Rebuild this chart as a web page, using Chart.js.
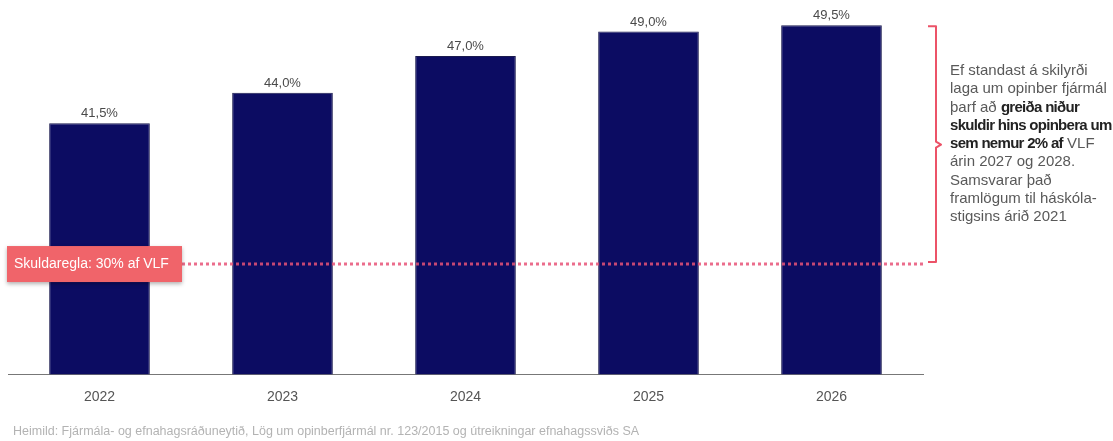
<!DOCTYPE html>
<html lang="is">
<head>
<meta charset="utf-8">
<script src="https://cdn.jsdelivr.net/npm/chart.js@4.4.1/dist/chart.umd.min.js"></script>
<style>
  html, body { margin: 0; padding: 0; background: #fff; }
  #wrap { position: relative; width: 1113px; height: 441px; font-family: 'Liberation Sans', Arial, sans-serif; }
  #chart { position: absolute; left: 0; top: 0; }
  .note { position: absolute; left: 950px; top: 61px; font-size: 15px; line-height: 18.3px; color: #595959; white-space: nowrap; }
  .note b { color: #222; font-weight: 700; letter-spacing: -0.7px; }
  .source { position: absolute; left: 13px; top: 424px; font-size: 12.5px; color: #b3b3b3; white-space: nowrap; }
</style>
</head>
<body>
<div id="wrap">
  <canvas id="chart" width="1113" height="441"></canvas>
  <div class="note">Ef standast á skilyrði<br>laga um opinber fjármál<br>þarf að <b>greiða niður</b><br><b>skuldir hins opinbera um</b><br><b>sem nemur 2% af</b> VLF<br>árin 2027 og 2028.<br>Samsvarar það<br>framlögum til háskóla-<br>stigsins árið 2021</div>
  <div class="source">Heimild: Fjármála- og efnahagsráðuneytið, Lög um opinberfjármál nr. 123/2015 og útreikningar efnahagssviðs SA</div>
</div>
<script>
// Skuldir hins opinbera, % af VLF
const years = ['2022', '2023', '2024', '2025', '2026'];
const debtShare = [41.5, 44.0, 47.0, 49.0, 49.5];
const debtRule = 30;
const ruleLabel = 'Skuldaregla: 30% af VLF';

const navy = '#0c0c62';
const coral = '#f0646a';

const fmt = v => v.toFixed(1).replace('.', ',') + '%';

// value labels above each bar
const valueLabels = {
    id: 'valueLabels',
    afterDatasetsDraw(chart) {
        const { ctx } = chart;
        const meta = chart.getDatasetMeta(0);
        ctx.save();
        ctx.font = "13px 'Liberation Sans', Arial, sans-serif";
        ctx.fillStyle = '#4a4a4a';
        ctx.textAlign = 'center';
        ctx.textBaseline = 'bottom';
        meta.data.forEach((bar, i) => ctx.fillText(fmt(debtShare[i]), bar.x, bar.y - 3));
        ctx.restore();
    }
};

// dotted debt-rule line, its label box and the brace on the right
const ruleLine = {
    id: 'ruleLine',
    afterDatasetsDraw(chart) {
        const { ctx, chartArea, scales } = chart;
        const y = scales.y.getPixelForValue(debtRule);
        const yTop = scales.y.getPixelForValue(debtShare[debtShare.length - 1]);
        ctx.save();

        ctx.strokeStyle = 'rgba(232, 84, 120, 0.85)';
        ctx.lineWidth = 3;
        ctx.setLineDash([3, 3]);
        ctx.beginPath();
        ctx.moveTo(182, y);
        ctx.lineTo(chartArea.right, y);
        ctx.stroke();
        ctx.setLineDash([]);

        // label box
        ctx.shadowColor = 'rgba(0,0,0,0.3)';
        ctx.shadowBlur = 4;
        ctx.shadowOffsetY = 2;
        ctx.fillStyle = coral;
        ctx.fillRect(7, y - 18, 175, 36);
        ctx.shadowColor = 'transparent';
        ctx.font = "14px 'Liberation Sans', Arial, sans-serif";
        ctx.fillStyle = '#fff';
        ctx.textAlign = 'left';
        ctx.textBaseline = 'middle';
        ctx.fillText(ruleLabel, 14, y);

        // brace
        const bx = 936;
        const mid = (yTop + y) / 2;
        ctx.strokeStyle = '#ec5368';
        ctx.lineWidth = 2;
        ctx.lineJoin = 'round';
        ctx.beginPath();
        ctx.moveTo(928, yTop + 1);
        ctx.lineTo(bx, yTop + 1);
        ctx.lineTo(bx, mid - 3);
        ctx.lineTo(bx + 5, mid);
        ctx.lineTo(bx, mid + 3);
        ctx.lineTo(bx, y - 2);
        ctx.lineTo(928, y - 2);
        ctx.stroke();
        ctx.restore();
    }
};

new Chart(document.getElementById('chart'), {
    type: 'bar',
    data: {
        labels: years,
        datasets: [{ data: debtShare, backgroundColor: navy, borderColor: '#1a1a4e', borderWidth: 1, categoryPercentage: 1, barPercentage: 0.55 }]
    },
    options: {
        responsive: false, animation: false,
        layout: { padding: { left: 8, right: 190, top: 7, bottom: 28 } },
        plugins: { legend: { display: false }, tooltip: { enabled: false } },
        scales: {
            x: {
                grid: { display: false },
                border: { display: true, color: '#777', width: 1 },
                ticks: { color: '#555', padding: 7, font: { family: "'Liberation Sans', Arial, sans-serif", size: 14 } }
            },
            y: { display: false, min: 21, max: 51 }
        }
    },
    plugins: [valueLabels, ruleLine]
});
</script>
</body>
</html>
